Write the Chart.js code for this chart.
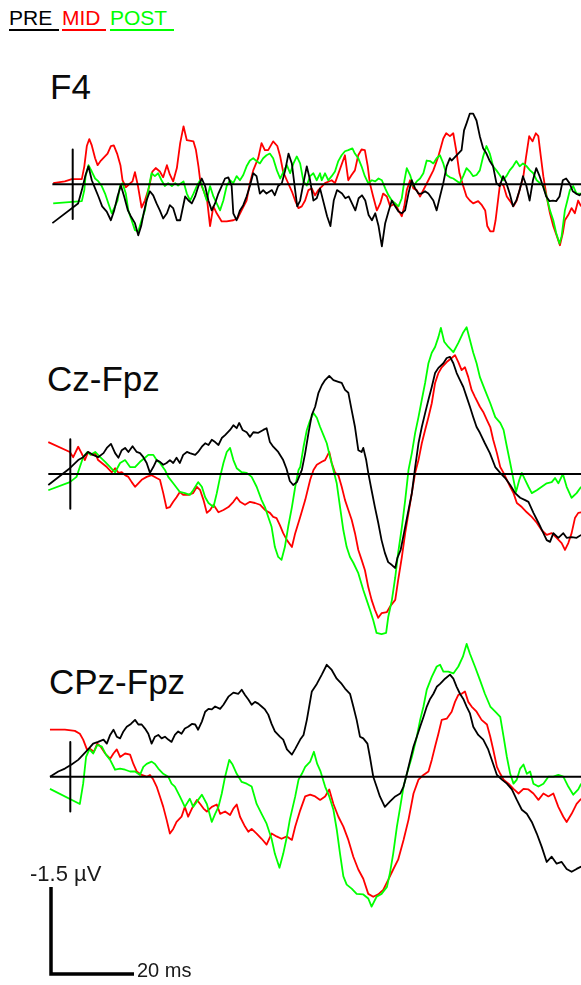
<!DOCTYPE html>
<html>
<head>
<meta charset="utf-8">
<script src="https://cdn.jsdelivr.net/npm/chart.js@4.4.1/dist/chart.umd.min.js"></script>
<style>
  html, body { margin: 0; padding: 0; background: #fff; }
  body { position: relative; width: 581px; height: 985px; overflow: hidden;
         font-family: "Liberation Sans", Arial, sans-serif; }
  canvas { position: absolute; left: 0; }
  .key { position: absolute; top: 7px; height: 22px; font-size: 21px; line-height: 22px;
         border-bottom: 2px solid; white-space: nowrap; }
  .channel { position: absolute; font-size: 35px; line-height: 35px; color: #0a0a0a; white-space: nowrap; }
  .scale { position: absolute; line-height: 23px; color: #1a1a1a; white-space: nowrap; }
</style>
</head>
<body>
<div id="keys"></div>
<div id="titles"></div>
<canvas id="ch0"></canvas>
<canvas id="ch1"></canvas>
<canvas id="ch2"></canvas>
<canvas id="bar"></canvas>
<div class="scale" id="uvLabel" style="left:30px;top:862px;font-size:22px"></div>
<div class="scale" id="msLabel" style="left:137px;top:959px;font-size:20px"></div>

<script>
// conditions and channels
const CONDITIONS = ["PRE", "MID", "POST"];
const CHANNELS = ["F4", "Cz-Fpz", "CPz-Fpz"];

// scale bar and zero-marker sizes
const SCALE_MS = 20;
const SCALE_UV = -1.5;
const ZERO_TICK_UV = 0.6;

// F4 (time in ms, amplitude in µV)
const F4_PRE_T = [-4.9,1.3,2.2,3.1,3.8,4.6,5.4,6.2,7.1,8.2,9.2,10.0,10.8,11.6,12.4,13.3,14.0,15.0,15.8,16.5,17.1,17.8,18.6,19.4,20.2,21.0,21.8,22.7,23.4,24.2,25.1,25.9,27.1,27.9,28.7,29.5,30.3,31.1,31.9,32.7,33.5,34.3,35.1,35.9,36.7,37.5,38.3,38.7,39.5,40.3,41.1,41.9,42.7,43.5,44.3,45.1,45.9,46.7,48.0,48.7,49.5,50.4,51.2,52.0,52.8,53.6,54.1,54.8,55.6,56.4,57.2,58.0,58.8,59.6,61.3,62.1,62.9,63.7,64.9,65.7,66.5,67.3,68.1,68.9,69.7,70.5,71.3,72.1,72.9,73.7,74.5,75.3,76.1,76.9,77.7,78.5,79.3,80.1,80.9,81.7,82.5,83.3,84.1,84.9,85.7,86.9,87.7,88.5,89.3,90.1,90.9,91.3,92.9,93.7,94.3,94.9,95.7,96.5,97.3,98.1,98.9,99.7,100.5,101.3,102.1,102.9,103.7,104.5,105.3,106.1,106.9,107.7,108.5,109.3,110.1,110.9,111.7,112.5,113.3,114.1,114.9,115.7,116.5,117.3,118.1,118.9,119.7,120.5,121.3,122.1,122.7,124.9];
const F4_PRE_V = [0.67,0.33,0.10,-0.16,-0.31,-0.07,0.07,0.21,0.38,0.47,0.62,0.45,0.21,0.02,0.21,0.45,0.55,0.67,0.88,0.72,0.50,0.28,0.12,0.19,0.33,0.45,0.59,0.50,0.36,0.41,0.62,0.62,0.21,0.28,0.33,0.21,0.03,-0.10,0.03,0.28,0.45,0.33,0.16,0.03,-0.10,-0.12,0.03,0.50,0.62,0.45,0.36,0.21,0.03,-0.19,-0.14,0.16,0.10,0.16,0.10,0.19,0.03,-0.02,-0.24,-0.53,-0.36,0.10,0.38,0.28,-0.02,-0.31,-0.07,0.28,0.24,0.07,0.55,0.72,0.28,0.10,0.16,0.24,0.21,0.33,0.45,0.24,0.19,0.28,0.53,0.62,0.50,0.72,1.07,0.67,0.47,0.28,0.38,0.47,0.50,0.45,0.16,-0.07,0.07,0.16,0.16,0.12,0.16,0.28,0.45,0.21,-0.02,-0.31,-0.45,-0.41,-0.53,-0.59,-0.93,-1.05,-1.22,-1.22,-1.10,-0.83,-0.62,-0.53,-0.40,-0.31,-0.02,0.03,-0.14,-0.02,0.16,0.38,0.28,0.10,-0.14,0.02,0.28,-0.07,-0.28,-0.14,0.03,0.21,0.29,0.28,0.29,0.21,-0.07,-0.10,-0.02,0.12,0.16,0.19,0.16,0.09];
const F4_MID_T = [-4.7,-1.9,-0.2,2.2,2.8,3.4,4.0,4.6,5.4,6.0,6.8,7.6,8.4,9.2,9.9,10.7,11.5,12.0,12.8,13.6,14.4,15.0,15.7,16.6,17.4,18.4,19.2,20.0,21.0,21.8,22.7,23.4,24.2,25.1,25.9,26.7,27.5,29.1,29.7,30.3,30.8,31.6,32.4,33.1,33.9,34.7,35.9,37.1,38.7,39.7,40.7,41.9,42.7,43.5,44.7,45.5,46.3,47.1,48.3,49.3,50.0,50.7,51.6,52.8,53.6,54.4,55.2,56.0,56.8,57.6,58.4,59.2,60.8,62.4,63.2,65.6,66.4,67.2,68.0,68.8,69.6,70.4,71.1,71.6,72.4,73.3,74.1,74.8,75.7,76.5,77.7,78.5,79.3,79.9,80.5,81.3,82.1,82.9,83.7,85.7,86.9,88.1,89.3,90.0,90.9,91.7,92.4,93.2,94.1,94.9,95.7,96.5,97.7,98.6,99.4,99.9,100.6,101.4,101.9,102.6,103.0,103.8,104.6,105.4,106.2,107.0,107.8,108.6,109.2,110.0,110.8,111.6,112.2,112.8,113.4,114.2,115.0,115.8,116.6,117.4,118.1,118.6,119.4,120.2,121.0,121.8,122.5,124.6];
const F4_MID_V = [-0.02,-0.05,-0.09,-0.09,-0.31,-0.66,-0.78,-0.67,-0.45,-0.33,-0.41,-0.47,-0.53,-0.66,-0.67,-0.53,-0.33,-0.07,0.05,0,-0.05,-0.21,0.02,0.40,0.28,0.05,-0.22,-0.28,-0.22,-0.12,-0.33,-0.17,-0.05,-0.28,-0.71,-1.0,-0.76,-0.74,-0.59,-0.31,-0.02,0.12,0.28,0.72,0.38,0.50,0.64,0.64,0.62,0.59,0.45,0.28,-0.02,-0.24,-0.45,-0.71,-0.59,-0.59,-0.74,-0.66,-0.48,-0.22,-0.07,0.12,0.28,0.41,0.38,0.28,0.10,0.07,0.19,0.10,-0.02,-0.07,-0.02,-0.50,-0.07,-0.16,-0.24,-0.50,-0.60,-0.59,-0.31,-0.02,0.21,0.45,0.33,0.16,0.21,0.38,0.33,0.45,0.55,0.38,0.10,-0.07,0.07,0.10,0.21,-0.07,-0.24,-0.48,-0.79,-0.88,-0.83,-0.88,-0.59,-0.19,0.03,0.21,0.28,0.33,0.29,0.36,0.45,0.72,0.81,0.81,0.62,0.21,-0.02,0.02,0.21,0.29,0.38,0.28,0.07,-0.14,-0.45,-0.83,-0.74,-0.88,-0.83,-0.48,-0.14,0.21,0.50,0.72,0.88,1.05,0.84,0.62,0.53,0.41,0.50,0.28,0.38,0.17];
const F4_POST_T = [-4.7,2.2,2.8,3.1,3.8,4.6,5.4,6.2,7.0,7.8,8.6,9.4,10.2,10.8,11.4,12.0,12.8,13.4,14.2,15.0,15.8,16.6,17.4,18.2,19.0,19.8,20.6,21.4,22.2,23.0,23.9,24.7,25.4,26.7,27.5,28.3,29.1,29.9,30.7,31.5,32.3,33.1,33.9,34.7,35.5,36.3,37.1,37.9,38.7,39.5,40.3,41.1,41.9,42.7,43.5,44.3,45.1,45.9,46.7,47.5,48.3,49.2,50.0,50.8,51.6,52.4,53.2,54.0,54.8,55.6,56.4,57.2,58.0,58.8,59.6,60.0,60.8,61.6,62.4,63.2,64.0,64.8,65.6,66.4,67.4,68.0,68.8,69.6,70.4,71.2,72.1,72.9,73.7,74.5,75.3,76.1,76.9,77.7,78.5,79.3,79.9,80.5,81.3,82.1,82.9,83.7,84.5,85.3,86.1,86.9,87.7,88.5,89.3,90.1,90.9,91.7,93.3,94.1,94.9,95.7,96.5,97.3,98.1,98.9,99.7,100.5,101.3,102.1,102.9,103.7,104.5,105.3,106.1,106.9,107.7,108.5,109.4,110.2,111.0,111.8,112.6,113.4,114.2,115.0,115.8,116.5,117.3,117.8,118.6,119.2,119.8,120.6,121.4,122.5,124.7];
const F4_POST_V = [0.33,0.29,0.10,-0.14,-0.33,-0.22,-0.10,-0.05,0.03,0.16,0.33,0.50,0.38,0.28,0.03,-0.02,0.16,0.45,0.62,0.79,0.81,0.62,0.45,0.10,-0.19,-0.14,-0.19,-0.07,0.03,-0.02,0.03,-0.02,0.02,-0.05,0.16,0.28,0.16,0.03,-0.07,0.10,0.28,0.03,0.21,0.33,0.45,0.28,0.03,-0.07,-0.02,-0.14,-0.07,-0.16,-0.31,-0.41,-0.45,-0.40,-0.36,-0.45,-0.50,-0.53,-0.45,-0.24,-0.10,-0.22,-0.33,-0.19,-0.36,-0.48,-0.36,-0.05,0.02,-0.14,-0.19,-0.07,-0.19,-0.07,-0.19,-0.07,-0.14,-0.22,-0.40,-0.50,-0.57,-0.59,-0.62,-0.53,-0.45,-0.31,-0.14,-0.02,-0.07,-0.05,-0.10,-0.07,0.07,0.19,0.28,0.33,0.38,0.24,-0.05,-0.28,-0.16,0.03,-0.05,-0.10,-0.19,-0.41,-0.40,-0.36,-0.45,-0.50,-0.36,-0.16,-0.12,-0.10,-0.02,-0.14,-0.28,-0.22,-0.14,-0.16,-0.24,-0.48,-0.66,-0.53,-0.31,-0.24,-0.16,-0.07,-0.14,-0.24,-0.31,-0.40,-0.31,-0.36,-0.31,-0.24,-0.19,-0.07,-0.02,0.03,0.21,0.45,0.62,0.84,1.02,0.90,0.45,0.28,0.10,0.03,0.16,0.16,0.07];

// Cz-Fpz
const CZ_PRE_T = [-5.3,-0.1,1.9,3.1,4.3,5.5,6.7,8.0,8.8,9.8,10.8,11.6,12.4,13.2,14.0,15.0,16.0,16.8,17.6,18.4,19.2,20.0,20.8,21.6,22.4,23.2,24.0,24.8,25.6,26.4,27.2,28.1,28.8,30.1,30.8,31.7,32.5,33.3,34.1,34.9,35.7,36.5,37.3,38.5,39.3,40.1,40.7,41.5,42.5,43.3,44.1,45.3,46.5,47.3,48.1,48.9,50.1,51.3,52.1,52.9,53.7,54.6,55.8,56.6,57.4,58.2,59.0,59.8,60.6,61.4,62.4,63.4,64.6,65.4,66.2,67.0,67.8,68.6,69.4,70.2,70.6,71.3,71.8,72.6,73.4,74.2,75.0,75.8,76.6,77.5,78.3,78.8,79.6,80.4,81.5,82.3,83.1,83.9,84.7,85.5,86.3,87.1,87.9,88.7,89.9,90.7,91.5,92.3,93.1,93.9,94.7,95.5,96.3,97.1,97.9,98.7,99.9,101.1,102.4,103.6,104.8,106.0,107.2,108.4,109.6,110.4,111.6,112.8,114.0,114.8,115.6,116.4,117.6,118.8,119.6,120.8,122.0,123.1,125.3];
const CZ_PRE_V = [0.19,-0.10,-0.24,-0.29,-0.38,-0.33,-0.29,-0.36,-0.45,-0.52,-0.36,-0.28,-0.41,-0.45,-0.38,-0.48,-0.38,-0.36,-0.29,-0.19,-0.02,-0.12,-0.24,-0.21,-0.16,-0.19,-0.24,-0.19,-0.28,-0.19,-0.33,-0.38,-0.36,-0.33,-0.38,-0.47,-0.53,-0.50,-0.59,-0.55,-0.50,-0.62,-0.67,-0.76,-0.84,-0.79,-0.88,-0.76,-0.72,-0.64,-0.72,-0.71,-0.76,-0.79,-0.55,-0.47,-0.38,-0.24,-0.09,0.12,0.19,0.14,-0.07,-0.36,-0.71,-1.02,-1.16,-1.40,-1.53,-1.62,-1.69,-1.62,-1.59,-1.57,-1.45,-1.40,-1.10,-0.81,-0.41,-0.38,-0.45,-0.24,-0.02,0.28,0.57,0.84,1.14,1.36,1.52,1.57,1.62,1.45,1.31,1.02,0.62,0.33,-0.12,-0.53,-0.81,-1.05,-1.28,-1.50,-1.74,-1.83,-1.91,-2.00,-2.02,-1.91,-1.74,-1.62,-1.50,-1.33,-1.16,-0.98,-0.81,-0.71,-0.53,-0.36,-0.12,-0.02,0.07,0.19,0.33,0.41,0.45,0.48,0.67,0.84,1.02,1.14,1.17,1.02,1.10,1.02,1.10,1.09,1.10,1.05,1.03];
const CZ_MID_T = [-5.3,-0.1,0.7,1.9,2.7,3.5,4.3,5.2,6.0,6.7,7.6,8.8,10.0,10.8,11.6,12.4,13.2,14.0,14.8,15.6,16.4,17.2,18.4,19.6,20.8,21.6,22.4,23.2,24.0,24.8,25.6,26.4,27.2,28.4,29.6,30.5,31.3,32.1,32.9,33.7,34.5,35.7,36.9,38.1,39.3,40.1,40.9,42.1,43.3,44.5,45.7,46.9,48.1,48.9,49.7,50.5,51.3,52.2,53.4,54.2,55.4,56.6,57.8,58.6,59.4,60.6,61.4,62.4,63.0,63.8,64.6,65.4,66.2,67.0,67.8,68.6,69.4,70.2,71.0,71.8,72.6,73.4,74.2,75.0,76.3,77.0,78.3,79.0,79.9,80.7,81.5,82.3,83.1,83.9,84.7,85.5,86.3,87.1,87.9,88.7,89.5,90.7,91.9,92.7,93.5,94.3,95.1,95.9,96.7,97.5,98.7,99.5,100.4,101.2,101.9,102.8,103.6,104.4,105.2,106.0,106.8,107.6,108.8,110.0,111.2,112.4,113.6,114.8,116.0,117.2,118.4,119.2,120.0,120.8,121.6,122.4,123.1,125.3];
const CZ_MID_V = [-0.55,-0.38,-0.29,-0.47,-0.36,-0.24,-0.38,-0.33,-0.36,-0.24,-0.19,-0.12,-0.03,-0.10,-0.02,-0.03,0.02,0.05,0.14,0.22,0.16,0.10,0.05,0.02,0.07,0.10,0.33,0.59,0.57,0.48,0.40,0.31,0.36,0.36,0.33,0.22,0.28,0.45,0.67,0.62,0.53,0.66,0.62,0.57,0.48,0.40,0.48,0.53,0.48,0.50,0.53,0.62,0.67,0.74,0.76,0.88,1.02,1.14,1.26,1.02,0.74,0.45,0.10,-0.07,-0.16,-0.21,-0.24,-0.38,-0.19,-0.02,0.02,0.22,0.45,0.62,0.79,1.02,1.31,1.48,1.66,1.95,2.17,2.34,2.48,2.40,2.38,2.29,2.17,1.83,1.43,1.02,0.67,0.33,-0.02,-0.24,-0.53,-0.76,-0.98,-1.22,-1.57,-1.74,-1.84,-1.93,-2.00,-2.05,-1.93,-1.79,-1.84,-1.67,-1.45,-1.33,-1.16,-1.07,-0.93,-0.81,-0.59,-0.36,-0.12,-0.02,0.10,0.22,0.33,0.50,0.57,0.66,0.74,0.84,0.97,1.05,1.02,1.10,1.19,1.31,1.19,1.02,0.76,0.67,0.66,0.55];
const CZ_POST_T = [-5.3,-0.1,1.5,2.3,3.1,4.1,4.9,6.0,7.2,8.4,9.6,10.8,12.0,13.2,14.4,15.6,16.8,18.0,18.8,20.0,20.8,21.6,22.8,23.6,24.8,26.4,27.6,28.8,29.6,30.8,31.7,32.5,33.3,34.5,35.3,36.1,36.9,37.7,38.5,39.3,40.1,41.3,42.5,43.7,44.9,46.1,46.9,47.7,48.5,49.3,50.1,50.9,51.7,52.5,53.4,54.2,55.0,55.4,56.2,57.0,57.8,58.6,59.4,60.2,61.0,61.8,62.6,63.4,64.2,65.0,65.8,66.6,67.4,68.2,69.4,70.6,71.4,72.2,73.0,73.8,75.0,76.1,76.6,77.5,78.3,79.0,79.9,80.7,81.5,82.3,83.1,83.9,84.7,85.5,86.3,87.1,87.9,88.7,89.3,90.1,91.1,92.3,93.5,94.6,95.5,96.3,97.1,97.9,98.7,99.9,101.2,102.4,103.6,104.4,105.2,106.0,106.8,107.4,108.2,108.8,109.6,110.4,111.2,112.4,113.6,114.8,116.0,116.8,117.6,118.7,119.6,120.8,122.0,123.1,125.3];
const CZ_POST_V = [0.28,0.14,0.05,-0.12,-0.29,-0.38,-0.33,-0.38,-0.29,-0.21,-0.12,-0.03,-0.19,-0.24,-0.12,-0.12,-0.21,-0.28,-0.33,-0.33,-0.24,-0.19,-0.07,0.05,0.16,0.31,0.33,0.36,0.28,0.14,0.22,0.40,0.50,0.57,0.33,0.05,-0.19,-0.38,-0.45,-0.24,-0.10,-0.03,-0.02,0.05,0.22,0.45,0.57,0.74,0.91,1.26,1.43,1.48,1.26,0.91,0.57,0.22,-0.07,-0.12,-0.47,-0.76,-0.93,-1.05,-0.97,-0.81,-0.67,-0.53,-0.29,-0.07,0.16,0.57,0.97,1.26,1.43,1.53,1.71,2.00,2.17,2.34,2.52,2.74,2.76,2.74,2.47,2.17,1.78,1.36,0.91,0.45,-0.07,-0.36,-0.71,-0.98,-1.28,-1.57,-1.91,-2.09,-2.19,-2.36,-2.52,-2.28,-2.19,-2.10,-2.26,-2.43,-2.53,-2.31,-2.09,-1.91,-1.67,-1.45,-1.22,-0.98,-0.88,-0.76,-0.47,-0.19,0.10,0.31,0.10,-0.02,0.10,0.22,0.33,0.28,0.22,0.16,0.14,0.07,0.16,0,0.22,0.41,0.33,0.22,0.17];

// CPz-Fpz
const CPZ_PRE_T = [-4.9,-2.9,-1.3,0.3,1.9,3.1,4.3,5.5,6.7,8.0,8.8,9.6,10.4,11.2,12.0,12.8,13.6,14.6,15.6,16.4,17.2,18.0,18.8,19.6,20.4,21.2,22.0,22.8,23.6,24.4,25.2,26.0,26.8,27.6,28.4,29.3,30.1,30.8,31.7,32.5,33.3,34.1,34.9,36.1,36.9,38.1,39.3,40.5,41.3,42.1,42.9,43.7,44.5,45.3,46.1,46.9,47.7,48.5,49.3,50.5,51.3,52.2,53.4,54.2,55.4,56.2,57.0,58.2,59.4,60.6,61.8,63.0,64.2,65.4,66.2,67.4,68.2,69.0,69.8,70.6,71.6,72.2,73.0,73.8,74.6,75.8,77.0,78.3,79.5,80.3,81.1,81.9,82.7,83.5,84.3,85.1,85.9,86.7,87.5,88.3,89.1,90.3,91.5,92.3,93.1,93.9,94.7,95.5,96.3,97.1,98.3,99.5,100.7,101.9,102.8,104.0,105.2,106.4,107.6,108.8,110.0,111.2,112.4,113.6,114.8,116.0,117.2,118.4,119.6,120.8,122.0,123.1,125.3];
const CPZ_PRE_V = [0,-0.09,-0.14,-0.21,-0.29,-0.38,-0.47,-0.57,-0.60,-0.64,-0.57,-0.72,-0.81,-0.69,-0.66,-0.78,-0.86,-0.91,-0.98,-0.90,-0.90,-0.83,-0.74,-0.57,-0.69,-0.72,-0.66,-0.69,-0.64,-0.60,-0.72,-0.78,-0.74,-0.83,-0.86,-0.91,-0.90,-0.81,-0.95,-1.12,-1.17,-1.16,-1.21,-1.17,-1.24,-1.38,-1.45,-1.43,-1.50,-1.41,-1.33,-1.24,-1.29,-1.26,-1.21,-1.16,-1.07,-0.91,-0.78,-0.69,-0.64,-0.47,-0.38,-0.48,-0.64,-0.72,-0.98,-1.47,-1.60,-1.76,-1.93,-1.84,-1.69,-1.60,-1.52,-1.43,-1.21,-0.98,-0.69,-0.66,-0.57,-0.34,0,0.17,0.34,0.52,0.43,0.34,0.29,0.17,-0.05,-0.29,-0.52,-0.69,-0.86,-1.03,-1.21,-1.34,-1.43,-1.55,-1.60,-1.69,-1.76,-1.69,-1.55,-1.43,-1.34,-1.21,-1.09,-0.86,-0.72,-0.64,-0.47,-0.22,-0.03,0.05,0.12,0.22,0.40,0.57,0.64,0.78,0.98,1.21,1.47,1.38,1.50,1.47,1.59,1.64,1.59,1.55,1.59];
const CPZ_MID_T = [-4.9,-1.3,1.1,2.3,3.1,4.0,4.7,5.7,6.5,7.3,8.4,9.6,10.4,11.2,12.0,13.2,14.4,15.2,16.0,17.2,18.4,19.2,20.0,20.8,21.6,22.4,23.2,24.0,24.8,25.6,26.8,27.6,28.4,29.5,30.5,31.3,32.1,32.9,34.1,35.3,36.1,37.3,38.5,39.3,40.1,40.9,42.1,42.9,43.7,44.9,46.1,47.3,48.5,49.7,50.9,52.2,53.4,54.2,55.4,56.6,57.8,59.0,60.2,61.4,62.4,63.4,64.6,65.8,67.0,68.2,69.4,70.6,71.8,73.0,74.2,75.4,76.6,77.8,79.0,80.3,81.5,82.7,83.9,85.1,86.3,87.1,87.9,88.7,89.5,90.7,91.9,92.7,93.5,94.3,95.1,95.9,96.7,97.9,99.1,100.4,101.2,101.9,102.8,103.6,104.4,105.6,106.8,108.0,109.2,110.4,111.6,112.8,114.0,115.2,116.4,117.6,118.8,119.6,120.8,122.0,123.1,125.3];
const CPZ_MID_V = [-0.81,-0.81,-0.79,-0.74,-0.64,-0.47,-0.48,-0.43,-0.57,-0.52,-0.40,-0.31,-0.40,-0.47,-0.34,-0.40,-0.38,-0.22,-0.09,-0.03,0,-0.03,0.05,0.17,0.34,0.52,0.74,0.98,0.90,0.78,0.69,0.52,0.69,0.52,0.40,0.47,0.55,0.60,0.52,0.48,0.64,0.60,0.66,0.55,0.48,0.69,0.86,0.95,0.90,0.98,1.07,1.17,0.98,1.03,1.07,1.03,1.09,0.86,0.58,0.34,0.31,0.34,0.40,0.34,0.22,0.47,0.69,0.86,1.09,1.38,1.60,1.76,2.02,2.07,2.03,1.95,1.78,1.60,1.43,1.09,0.74,0.29,0.05,-0.03,-0.09,-0.29,-0.52,-0.74,-0.98,-1.00,-1.12,-1.29,-1.41,-1.43,-1.47,-1.29,-1.21,-1.12,-0.98,-0.90,-0.69,-0.47,-0.17,-0.05,0.05,0.12,0.21,0.29,0.21,0.22,0.29,0.40,0.29,0.34,0.29,0.52,0.69,0.78,0.64,0.47,0.38,0.26];
const CPZ_POST_T = [-4.9,2.3,3.1,3.8,4.6,5.5,6.5,7.6,8.6,9.6,10.8,12.0,13.2,14.4,15.6,16.8,17.6,18.4,19.6,20.4,21.2,22.4,23.6,24.4,25.2,26.4,27.6,28.8,29.6,30.5,31.7,32.9,34.1,34.9,35.7,36.5,37.3,38.3,39.1,40.1,41.3,42.5,43.7,44.9,46.1,47.3,48.5,49.3,50.4,51.3,52.2,52.9,54.2,55.0,55.8,56.6,57.8,58.7,59.5,60.3,61.4,62.4,63.4,64.2,65.0,65.8,66.6,67.8,69.0,70.6,71.8,72.6,73.8,75.0,76.3,77.0,77.8,78.7,79.5,80.3,81.1,82.3,83.5,84.3,85.1,85.9,87.1,88.3,89.1,89.9,91.1,92.3,93.5,94.6,95.5,96.3,97.5,98.7,99.9,101.2,102.4,103.6,104.4,105.2,106.0,106.8,107.6,108.4,109.2,110.0,110.8,111.6,112.8,114.0,115.2,116.4,117.6,118.8,120.0,121.2,122.4,123.1,125.3];
const CPZ_POST_V = [0.21,0.47,0.12,-0.34,-0.47,-0.40,-0.55,-0.52,-0.38,-0.29,-0.12,-0.14,-0.12,-0.09,-0.09,-0.03,-0.17,-0.22,-0.26,-0.22,-0.14,-0.05,0,0.12,0.17,0.34,0.52,0.38,0.52,0.43,0.31,0.47,0.78,0.64,0.52,0.29,0,-0.29,-0.21,-0.05,0.09,0.12,0.17,0.47,0.64,0.81,1.07,1.33,1.57,1.33,1.03,0.74,0.34,0.05,-0.05,-0.17,-0.26,-0.43,-0.22,-0.09,0.17,0.34,0.57,0.91,1.33,1.72,1.86,1.93,2.02,2.03,2.10,2.24,2.07,2.02,1.90,1.67,1.33,0.86,0.52,0.17,-0.05,-0.34,-0.69,-0.98,-1.21,-1.50,-1.72,-1.90,-1.93,-1.81,-1.81,-1.78,-1.90,-2.07,-2.29,-2.12,-1.90,-1.67,-1.43,-1.21,-1.12,-1.03,-0.69,-0.34,-0.05,0.12,0.05,-0.14,-0.21,-0.05,-0.09,0.12,0.17,0.12,0,0,-0.03,0,0.17,0.31,0.22,0.12,0.09];

// drawing setup
const PAGE_W = 581;
const PX_PER_MS = 4.15;
const PX_PER_UV = 58;
const COLORS = { PRE: "#000000", MID: "#ff0000", POST: "#00ff00" };

const channelBoxes = [
    { canvas: "ch0", top: 100, height: 175, zeroX: 72.7, zeroY: 184.3, titleLeft: 50, titleTop: 69 },
    { canvas: "ch1", top: 300, height: 360, zeroX: 70.3, zeroY: 474, titleLeft: 47, titleTop: 361 },
    { canvas: "ch2", top: 610, height: 300, zeroX: 70.3, zeroY: 776.7, titleLeft: 49, titleTop: 664 }
];

const channelData = [
    { PRE: [F4_PRE_T, F4_PRE_V], MID: [F4_MID_T, F4_MID_V], POST: [F4_POST_T, F4_POST_V] },
    { PRE: [CZ_PRE_T, CZ_PRE_V], MID: [CZ_MID_T, CZ_MID_V], POST: [CZ_POST_T, CZ_POST_V] },
    { PRE: [CPZ_PRE_T, CPZ_PRE_V], MID: [CPZ_MID_T, CPZ_MID_V], POST: [CPZ_POST_T, CPZ_POST_V] }
];

function toPoints(times, values) {
    const n = Math.min(times.length, values.length);
    const pts = [];
    for (let i = 0; i < n; i++) pts.push({ x: times[i], y: values[i] });
    return pts;
}

function lineSet(points, color, width) {
    return {
        data: points,
        borderColor: color,
        borderWidth: width,
        pointRadius: 0,
        tension: 0,
        fill: false
    };
}

// scales are placed so that one ms / one µV always span the same pixels
function plotOptions(box, width) {
    return {
        responsive: false,
        animation: false,
        devicePixelRatio: 1,
        events: [],
        layout: { padding: 0 },
        plugins: {
            legend: { display: false },
            tooltip: { enabled: false }
        },
        elements: { line: { borderJoinStyle: "round" } },
        scales: {
            x: {
                type: "linear",
                display: false,
                min: -box.zeroX / PX_PER_MS,
                max: (width - box.zeroX) / PX_PER_MS
            },
            y: {
                type: "linear",
                display: false,
                reverse: true,
                min: (box.top - box.zeroY) / PX_PER_UV,
                max: (box.top + box.height - box.zeroY) / PX_PER_UV
            }
        }
    };
}

function CreateChannelChart(box, traces) {
    const canvas = document.getElementById(box.canvas);
    canvas.width = PAGE_W;
    canvas.height = box.height;
    canvas.style.top = box.top + "px";

    const start = Math.min(...CONDITIONS.map(c => traces[c][0][0]));
    const datasets = [
        lineSet([{ x: start, y: 0 }, { x: 140, y: 0 }], "#000000", 2),
        lineSet([{ x: 0, y: -ZERO_TICK_UV }, { x: 0, y: ZERO_TICK_UV }], "#000000", 2)
    ];
    // PRE on top, MID underneath
    ["PRE", "POST", "MID"].forEach(c => {
        datasets.push(lineSet(toPoints(traces[c][0], traces[c][1]), COLORS[c], 1.8));
    });

    new Chart(canvas, {
        type: "line",
        data: { datasets: datasets },
        options: plotOptions(box, PAGE_W)
    });
}

function CreateScaleBar() {
    const box = { canvas: "bar", top: 860, height: 125, zeroX: 51, zeroY: 974 };
    const canvas = document.getElementById(box.canvas);
    canvas.width = 200;
    canvas.height = box.height;
    canvas.style.top = box.top + "px";
    const bar = lineSet([{ x: 0, y: SCALE_UV }, { x: 0, y: 0 }, { x: SCALE_MS, y: 0 }], "#000000", 3.5);
    bar.borderJoinStyle = "miter";
    new Chart(canvas, {
        type: "line",
        data: { datasets: [bar] },
        options: plotOptions(box, 200)
    });
    document.getElementById("uvLabel").textContent = SCALE_UV + " µV";
    document.getElementById("msLabel").textContent = SCALE_MS + " ms";
}

// legend keys along the top
const keyPlaces = { PRE: [9, 50], MID: [62, 44], POST: [110, 64] };
const keys = document.getElementById("keys");
CONDITIONS.forEach(c => {
    const el = document.createElement("div");
    el.className = "key";
    el.textContent = c;
    el.style.left = keyPlaces[c][0] + "px";
    el.style.width = keyPlaces[c][1] + "px";
    el.style.color = COLORS[c];
    el.style.borderColor = COLORS[c];
    keys.appendChild(el);
});

const titles = document.getElementById("titles");
CHANNELS.forEach((name, i) => {
    const el = document.createElement("div");
    el.className = "channel";
    el.textContent = name;
    el.style.left = channelBoxes[i].titleLeft + "px";
    el.style.top = channelBoxes[i].titleTop + "px";
    titles.appendChild(el);
    CreateChannelChart(channelBoxes[i], channelData[i]);
});

CreateScaleBar();
</script>
</body>
</html>
